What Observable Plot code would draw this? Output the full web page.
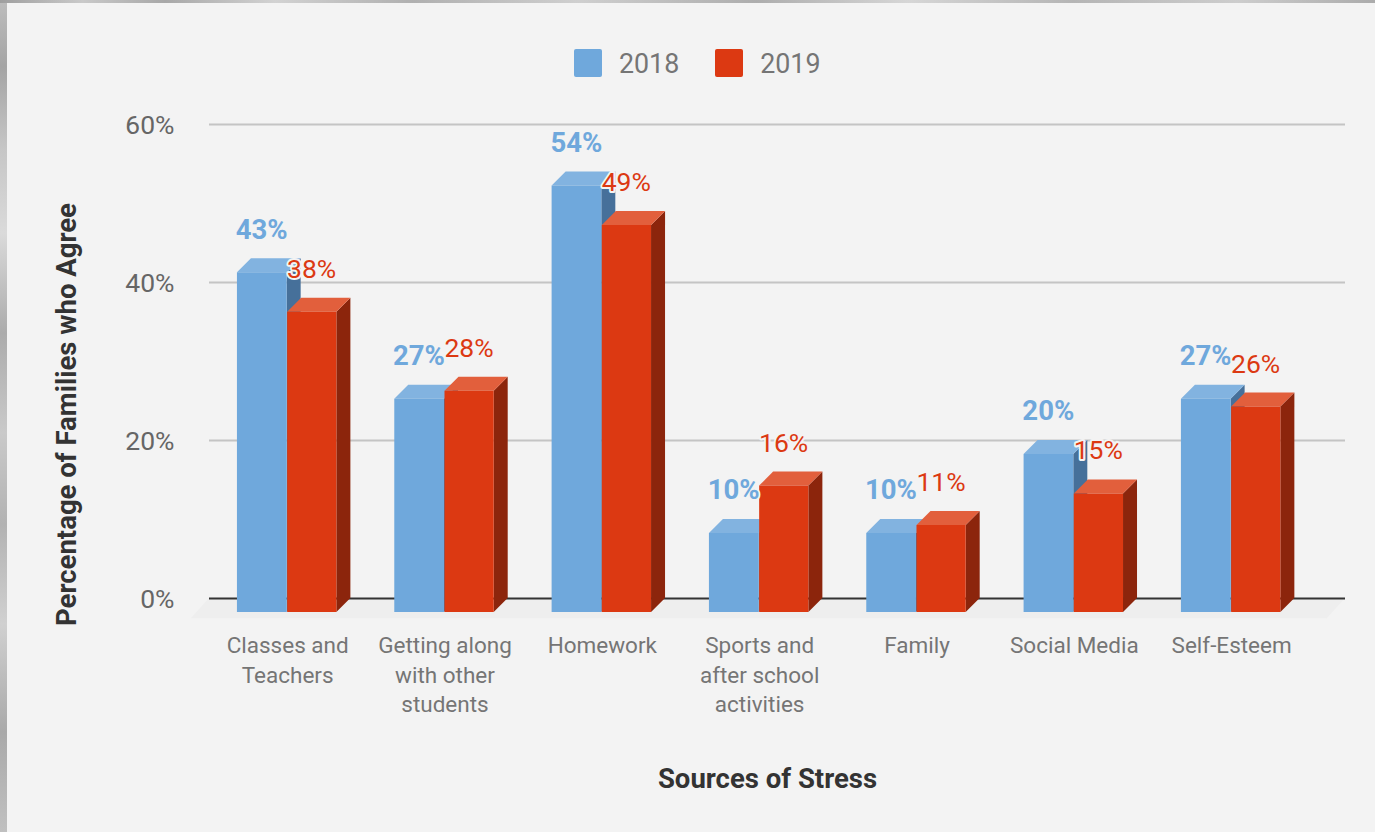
<!DOCTYPE html>
<html>
<head>
<meta charset="utf-8">
<script src="https://cdn.jsdelivr.net/npm/d3@7"></script>
<script src="https://cdn.jsdelivr.net/npm/@observablehq/plot@0.6"></script>
<style>
  html, body { margin: 0; padding: 0; }
  body {
    width: 1375px; height: 832px; overflow: hidden;
    font-family: Roboto, sans-serif;
    background:
      linear-gradient(90deg, #9f9f9f, #c9c9c9 6%, #a8a8a8 12%, #d2d2d2 20%, #b0b0b0 30%, #cfcfcf 42%, #adadad 55%, #d6d6d6 66%, #b5b5b5 78%, #cdcdcd 90%, #ababab) 0 0 / 100% 3px no-repeat,
      linear-gradient(180deg, #bdbdbd, #a4a4a4 8%, #c6c6c6 18%, #dadada 28%, #ababab 40%, #c9c9c9 52%, #b2b2b2 63%, #d0d0d0 75%, #a9a9a9 88%, #c0c0c0) 0 0 / 7px 100% no-repeat,
      #f3f3f3;
  }
  #legend {
    height: 90px; box-sizing: border-box; padding: 49px 0 0 574px;
    display: flex; align-items: flex-start;
    font-size: 26.8px; line-height: 29px; color: #757575;
  }
  #legend .sw { width: 28px; height: 28px; border-radius: 2px; margin-right: 17px; }
  #legend .lab { margin-right: 36px; padding-top: 1px; }
  svg { display: block; }
</style>
</head>
<body>
<div id="legend"></div>
<div id="chart"></div>
<script>
const categories = [
  "Classes and\nTeachers",
  "Getting along\nwith other\nstudents",
  "Homework",
  "Sports and\nafter school\nactivities",
  "Family",
  "Social Media",
  "Self-Esteem"
];
const series = ["2018", "2019"];
const values2018 = [43, 27, 54, 10, 10, 20, 27];
const values2019 = [38, 28, 49, 16, 11, 15, 26];
const faceColors = ["#6fa8dc", "#dc3912"];
const topColors = ["#82b3e0", "#e25f3c"];
const sideColors = ["#46709a", "#8c250c"];
const labelColors = ["#6fa8dc", "#dc3912"];
const yTicks = [0, 20, 40, 60];
const depth = 14;
const cardColor = "#f3f3f3";

const rows = categories.flatMap((category, i) => [
  {category, series: 0, value: values2018[i]},
  {category, series: 1, value: values2019[i]}
]);

d3.select("#legend").selectAll("div")
  .data(series.flatMap((s, i) => [{sw: faceColors[i]}, {lab: s}]))
  .join("div")
  .attr("class", d => d.sw ? "sw" : "lab")
  .style("background", d => d.sw || null)
  .text(d => d.lab || "");

// Floor of the pseudo-3D plot, derived from the frame and zero line.
const floor = Plot.ruleY([0], {
  render(index, scales, values, dims) {
    const y0 = scales.y(0), l = dims.marginLeft, r = dims.width - dims.marginRight;
    const pts = [[l, y0], [r, y0], [r - depth * 1.3, y0 + depth * 1.45], [l - depth * 1.3, y0 + depth * 1.45]];
    const g = d3.create("svg:g");
    g.append("polygon").attr("points", pts.join(" ")).attr("fill", "#eeeeee");
    return g.node();
  }
});

// Extruded bars: front, top and side faces positioned from the x and y scales.
const bars3d = Plot.barY(rows, {
  x: "category",
  y: "value",
  render(index, scales) {
    const g = d3.create("svg:g");
    const step = scales.x.bandwidth() / 2;
    const y0 = scales.y(0) + depth;
    for (const i of index) {
      const d = rows[i];
      const xa = scales.x(d.category) + d.series * step + (d.series ? 0.5 : 0);
      const xb = xa + step - (d.series ? 0.5 : 0);
      const yt = scales.y(d.value) + depth;
      const poly = (pts, fill) => g.append("polygon").attr("points", pts.join(" ")).attr("fill", fill);
      poly([[xb, yt], [xb + depth, yt - depth], [xb + depth, y0 - depth], [xb, y0]], sideColors[d.series]);
      poly([[xa, yt], [xa + depth, yt - depth], [xb + depth, yt - depth], [xb, yt]], topColors[d.series]);
      poly([[xa, yt], [xb, yt], [xb, y0], [xa, y0]], faceColors[d.series]);
    }
    return g.node();
  }
});

const valueLabels = (k, dx, weight, size) => Plot.text(rows.filter(d => d.series === k), {
  x: "category",
  y: "value",
  text: d => d.value + "%",
  dx,
  dy: -29,
  fill: labelColors[k],
  stroke: cardColor,
  strokeWidth: 4,
  fontSize: size,
  fontWeight: weight
});

const chart = Plot.plot({
  width: 1375,
  height: 742,
  marginLeft: 209,
  marginRight: 30,
  marginTop: 34,
  marginBottom: 234,
  style: {background: "transparent", fontFamily: "Roboto, sans-serif"},
  x: {type: "band", domain: categories, range: [208, 1309.3], round: false, paddingInner: 0.368, paddingOuter: 0.184, label: null},
  y: {domain: [0, 60], label: null},
  marks: [
    floor,
    Plot.ruleY(yTicks.slice(1), {stroke: "#c4c4c4", strokeWidth: 2}),
    Plot.ruleY([0], {stroke: "#333333", strokeWidth: 2}),
    bars3d,
    valueLabels(0, -25.5, 700, 27.5),
    valueLabels(1, 24.5, 400, 26.5),
    Plot.axisY({ticks: yTicks, tickFormat: d => d + "%", tickSize: 0, tickPadding: 35, dy: 1.5, fontSize: 26.5, color: "#666666", label: null}),
    Plot.axisX({tickSize: 0, tickPadding: 34, dx: 0.5, fontSize: 22.5, color: "#757575", lineHeight: 1.31, label: null}),
    Plot.text(["Percentage of Families who Agree"], {frameAnchor: "left", textAnchor: "middle", rotate: -90, dx: -142, dy: 53, fontSize: 27.5, fontWeight: 700, fill: "#333333"}),
    Plot.text(["Sources of Stress"], {frameAnchor: "bottom", dx: -10, dy: 189, fontSize: 27.5, fontWeight: 700, fill: "#333333"})
  ]
});
document.getElementById("chart").append(chart);
</script>
</body>
</html>
